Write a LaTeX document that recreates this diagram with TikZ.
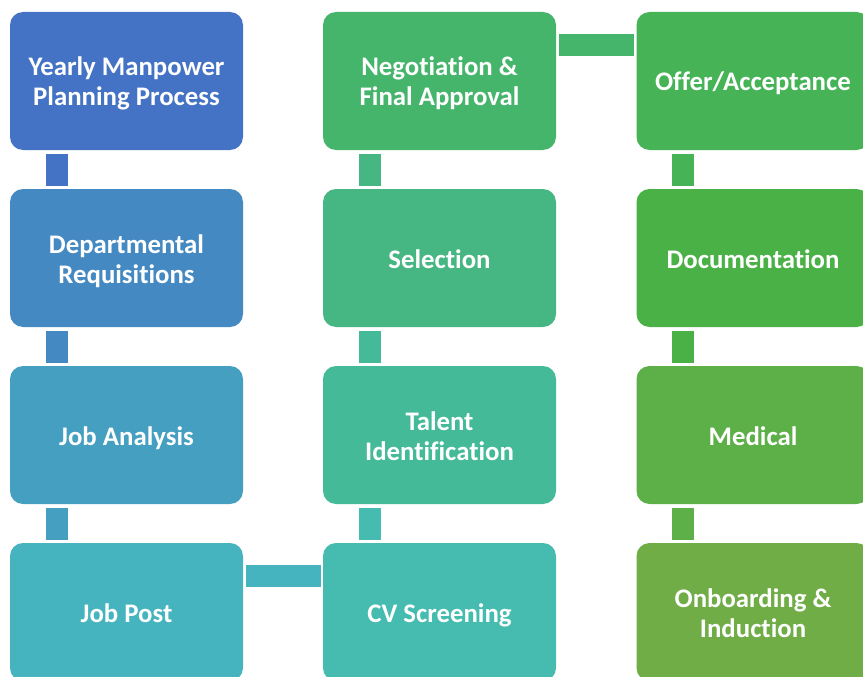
\documentclass[tikz,border=0pt]{standalone}
\usepackage{fontspec}
\setmainfont{Carlito}[Ligatures=CommonOff]
\definecolor{c0}{RGB}{68,114,196}
\definecolor{c1}{RGB}{68,137,194}
\definecolor{c2}{RGB}{69,159,192}
\definecolor{c3}{RGB}{69,180,190}
\definecolor{c4}{RGB}{69,188,175}
\definecolor{c5}{RGB}{69,186,152}
\definecolor{c6}{RGB}{70,183,130}
\definecolor{c7}{RGB}{70,181,108}
\definecolor{c8}{RGB}{70,179,87}
\definecolor{c9}{RGB}{74,177,70}
\definecolor{c10}{RGB}{93,175,71}
\definecolor{c11}{RGB}{112,173,71}
\newcommand\lnstrut{\rule[-5pt]{0pt}{30pt}}
\tikzset{
  stepbox/.style={rounded corners=13pt, minimum width=233pt, minimum height=138pt,
    inner sep=0pt, align=center, text=white,
    font=\bfseries\fontsize{26.8}{30}\selectfont},
}
\begin{document}
\begin{tikzpicture}[x=1pt,y=-1pt]
\useasboundingbox (0,0) rectangle (863,677);
\clip (0,0) rectangle (863,677);
% column 1
\node[stepbox, fill=c0] (n0) at (126.5,81) {\lnstrut Yearly Manpower\\\lnstrut Planning Process};
\node[stepbox, fill=c1] (n1) at (126.5,258) {\lnstrut Departmental\\\lnstrut Requisitions};
\node[stepbox, fill=c2] (n2) at (126.5,435) {\lnstrut Job Analysis};
\node[stepbox, fill=c3] (n3) at (126.5,612) {\lnstrut Job Post};
% column 2
\node[stepbox, fill=c4] (n4) at (439.5,612) {\lnstrut CV Screening};
\node[stepbox, fill=c5] (n5) at (439.5,435) {\lnstrut Talent\\\lnstrut Identification};
\node[stepbox, fill=c6] (n6) at (439.5,258) {\lnstrut Selection};
\node[stepbox, fill=c7] (n7) at (439.5,81) {\lnstrut Negotiation \&\\\lnstrut Final Approval};
% column 3
\node[stepbox, fill=c8] (n8) at (753,81) {\lnstrut Offer/Acceptance};
\node[stepbox, fill=c9] (n9) at (753,258) {\lnstrut Documentation};
\node[stepbox, fill=c10] (n10) at (753,435) {\lnstrut Medical};
\node[stepbox, fill=c11] (n11) at (753,612) {\lnstrut Onboarding \&\\\lnstrut Induction};
% vertical connectors (down)
\fill[c0] ([xshift=36pt,yshift=-4pt]n0.south west) rectangle ([xshift=58pt,yshift=3pt]n1.north west);
\fill[c1] ([xshift=36pt,yshift=-4pt]n1.south west) rectangle ([xshift=58pt,yshift=3pt]n2.north west);
\fill[c2] ([xshift=36pt,yshift=-4pt]n2.south west) rectangle ([xshift=58pt,yshift=3pt]n3.north west);
% horizontal connector
\fill[c3] ([xshift=3pt,yshift=-22pt]n3.north east) rectangle ([xshift=-2pt,yshift=-44pt]n4.north west);
% vertical connectors (up)
\fill[c4] ([xshift=36pt,yshift=3pt]n4.north west) rectangle ([xshift=58pt,yshift=-4pt]n5.south west);
\fill[c5] ([xshift=36pt,yshift=3pt]n5.north west) rectangle ([xshift=58pt,yshift=-4pt]n6.south west);
\fill[c6] ([xshift=36pt,yshift=3pt]n6.north west) rectangle ([xshift=58pt,yshift=-4pt]n7.south west);
% horizontal connector
\fill[c7] ([xshift=3pt,yshift=-22pt]n7.north east) rectangle ([xshift=-2pt,yshift=-44pt]n8.north west);
% vertical connectors (down)
\fill[c8] ([xshift=36pt,yshift=-4pt]n8.south west) rectangle ([xshift=58pt,yshift=3pt]n9.north west);
\fill[c9] ([xshift=36pt,yshift=-4pt]n9.south west) rectangle ([xshift=58pt,yshift=3pt]n10.north west);
\fill[c10] ([xshift=36pt,yshift=-4pt]n10.south west) rectangle ([xshift=58pt,yshift=3pt]n11.north west);
\end{tikzpicture}
\end{document}
